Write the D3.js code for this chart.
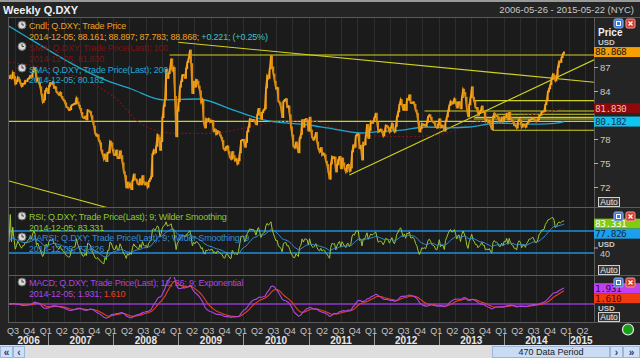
<!DOCTYPE html>
<html><head><meta charset="utf-8">
<script src="https://cdn.jsdelivr.net/npm/d3@7"></script>
<style>
html,body{margin:0;padding:0;background:#242424;overflow:hidden;}
svg{display:block;font-family:"Liberation Sans",Arial,sans-serif;}
</style></head><body>
<svg id="c" width="640" height="358"></svg>
<script>
// ---------- DATA ----------
const startDate = "2006-05-26";
const endDate = "2015-05-22";
const lastDataDate = "2014-12-05";
// weekly closes (Fridays)
const close2006 = [85.6,85.9,85.6,86.3,85.8,84.9,85.2,85.7,85.4,85.0,84.6,84.9,84.9,85.3,85.2,85.5,85.6,85.9,85.7,86.4,86.9,86.6,85.3,85.6,85.0,84.5,83.6,82.6,82.9,84.0,84.3,83.7];
const close2007 = [84.6,85.0,84.9,85.1, 84.4,84.5,83.9,83.7, 83.5,83.8,83.3,83.0,82.8, 82.5,82.0,81.9,81.6, 81.7,82.2,82.3,82.4, 82.4,83.1,82.6,82.2,81.8, 81.3,80.7,80.6,80.8, 80.4,81.6,81.5,81.4,80.9, 80.2,79.6,78.7,78.4, 78.5,77.8,77.5,76.6, 76.1,75.5,76.1,75.2,76.3, 76.3,77.7,77.5,76.7];
const close2008 = [76.0,76.0,76.6,75.6, 75.6,76.5,75.9,75.0,73.9, 73.4,71.9,72.6,72.0, 72.4,71.7,72.8,73.6, 73.0,72.9,72.4,72.3,73.0, 72.3,73.4,72.6,72.3, 72.5,72.0,72.7,73.0, 73.3,76.1,76.6,76.3,77.1, 78.5,78.2,76.6,77.7, 80.7,82.1,83.0,86.7,85.6, 86.2,86.8,88.0,86.6, 86.9,83.3,78.3,81.5];
const close2009 = [82.7,84.5,85.2,86.0,86.0, 85.6,86.8,87.6,88.1, 89.1,87.4,83.7,85.2, 84.5,85.4,85.2,84.6, 84.0,82.6,82.9,80.2,79.4, 80.5,80.2,80.5,80.1, 80.3,80.3,79.0,79.2,78.6, 79.0,78.9,78.5,78.2, 77.8,76.8,76.6,77.0, 77.1,76.4,75.7,75.5,76.4, 75.9,75.3,75.5,74.9, 75.3,76.3,77.8,77.9];
const close2010 = [77.9,77.0,77.6,78.9,79.5, 80.5,80.4,80.4,80.4, 80.2,79.8,81.0,81.8, 81.3,80.5,81.3,81.6,81.8, 84.4,85.9,85.6,86.8, 88.4,87.0,86.1,85.2, 84.3,84.4,82.7,82.5,81.9, 80.7,82.7,82.9,83.0, 82.0,82.1,81.0,79.5, 78.5,77.1,76.9,77.6,77.0, 76.3,78.1,78.6,80.4, 79.5,80.4,80.5,80.3,79.0];
const close2011 = [80.7,79.1,78.2,77.9, 78.2,78.8,77.6,76.8, 76.4,76.9,76.0,76.2, 76.0,75.2,74.8,73.9,73.0, 74.9,75.8,75.6,75.7, 73.9,74.8,75.4,75.8, 74.3,75.6,75.0,74.3,73.9, 74.7,74.8,74.0,74.4, 76.4,77.2,77.0,78.4,78.6, 78.6,76.8,77.2,75.4, 77.5,77.3,78.4,79.8, 78.1,79.1,80.2,80.0,80.2];
const close2012 = [80.7,81.2,80.1,78.9, 79.1,79.2,78.9,78.4, 78.9,79.7,79.6,79.4,78.9, 79.4,79.9,79.2,78.9, 79.6,80.8,81.4,82.3, 82.9,82.3,81.6,82.3,81.6, 83.0,82.9,83.5,82.5, 82.5,82.6,82.3,81.6,81.2, 80.1,78.9,79.3,79.9, 79.7,79.8,79.6,80.1, 80.8,81.0,80.7,80.2,80.1, 80.0,79.5,79.4,79.8];
const close2013 = [80.5,79.5,79.7,79.6, 79.0,80.2,80.8,81.5, 82.2,82.7,82.4,82.5,83.0, 82.6,81.9,82.6,82.6, 81.8,83.2,84.2,83.8,83.2, 81.7,80.8,82.3,83.2, 84.5,83.2,82.7,81.9, 81.9,81.0,81.3,81.5,82.1, 81.4,81.4,80.2,80.4, 80.1,80.3,79.7,79.2, 80.8,81.2,80.9,80.9,80.7, 80.2,80.2,80.6,80.2];
const close2014 = [80.8,80.7,81.2,80.4,81.3, 80.7,80.3,80.2,79.7, 79.7,79.4,80.2,80.5, 80.3,79.5,79.8,79.8, 79.5,79.9,80.1,80.4,80.4, 80.5,80.6,80.4,80.2, 80.2,80.4,80.9,81.0, 81.4,81.4,81.5,82.3,82.8, 83.9,84.3,84.8,85.6, 86.1,85.9,85.3,85.7,87.0, 87.7,87.6,88.2,88.65, 88.868];

// moving averages (sparse points)
const sma200Dates = ["2006-05-26","2006-07-28","2007-11-16","2008-04-11","2008-10-10","2009-04-24","2009-11-06","2010-04-23","2010-12-31","2011-04-15","2011-10-21","2012-01-13","2012-06-08","2012-10-19","2013-03-01","2013-06-21","2013-11-29","2014-03-14","2014-07-18","2014-10-10","2014-12-05"];
const sma200Values = [92.1,91.25,85.4,84.25,82.9,83.0,81.6,80.4,79.75,79.4,78.75,78.9,79.1,79.5,79.4,79.5,80.0,79.9,79.85,79.95,80.18];
const sma100Dates = ["2006-05-26","2006-12-29","2007-06-29","2007-12-28","2008-06-27","2008-12-26","2009-06-26","2009-12-25","2010-06-25","2010-12-31","2011-06-24","2011-12-30","2012-06-29","2012-12-28","2013-06-28","2013-12-27","2014-06-27","2014-12-05"];
const sma100Values = [87.6,86.8,85.6,83.4,79.6,78.7,78.7,79.3,80.1,80.3,79.2,78.4,78.3,78.5,79.9,80.8,81.1,81.83];

// drawn trend lines: [date1, value1, date2, value2]
const trendLines = [
  ["2006-05-26",80.2,"2015-05-22",80.2],
  ["2008-11-12",88.5,"2015-05-22",88.5],
  ["2008-12-31",90.1,"2015-05-22",85.1],
  ["2011-08-18",73.5,"2015-05-22",87.9],
  ["2006-05-26",72.75,"2008-06-01",68.3],
  ["2013-07-11",82.8,"2015-05-22",82.8],
  ["2012-10-13",81.5,"2015-05-22",81.5],
  ["2013-11-21",81.1,"2015-05-22",81.1],
  ["2013-07-19",80.7,"2015-05-22",80.7],
  ["2013-07-15",80.5,"2015-05-22",80.5],
  ["2013-10-29",79.1,"2015-05-22",79.1]
];

// last values shown in legends / axis boxes
const lastCandle = ["88.161","88.897","87.783","88.868"];
const lastChange = ["+0.221","(+0.25%)"];
const priceLast = 88.868, sma100Last = 81.830, sma200Last = 80.182;
const rsiLast = 83.331, marsiLast = 77.826;
const macdLast = 1.931, signalLast = 1.610;
const priceTicks = [72,75,78,84,87];
const rsiTicks = [40];
const rsiLevels = [70,30];
const quarterNames = ["Q1","Q2","Q3","Q4"];
const years = [2006,2007,2008,2009,2010,2011,2012,2013,2014,2015];

// ---------- SETUP ----------
const closes = [].concat(close2006,close2007,close2008,close2009,close2010,close2011,close2012,close2013,close2014);
const parse = d3.timeParse("%Y-%m-%d");
const t0 = parse(startDate), t1 = parse(endDate);
const dates = closes.map((c,i)=>d3.timeDay.offset(t0,7*i));

const svg = d3.select("#c");
const L=9, R=594;
const P={top:17,bottom:207}, RS={top:208,bottom:275}, MC={top:276,bottom:322};
const x = d3.scaleTime().domain([t0,t1]).range([L,R]);
const yP = d3.scaleLinear().domain([69.5,93.25]).range([P.bottom,P.top]);
const yR = d3.scaleLinear().domain([-10,111.8]).range([RS.bottom,RS.top]);
const yM = d3.scaleLinear().domain([-2.195,3.415]).range([MC.bottom,MC.top]);

// backgrounds
svg.append("rect").attr("width",640).attr("height",358).attr("fill","#242424");
svg.append("rect").attr("width",640).attr("height",2).attr("fill","#9a9a9a");
[P,RS,MC].forEach(p=>{
  svg.append("rect").attr("x",8).attr("y",p.top).attr("width",R-8).attr("height",p.bottom-p.top).attr("fill","#1b1b1b");
});
// quarter grid
const quarters = d3.timeMonth.every(3).range(d3.timeMonth.ceil(t0), t1);
svg.append("g").selectAll("line").data(quarters).join("line")
  .attr("x1",d=>Math.round(x(d))+0.5).attr("x2",d=>Math.round(x(d))+0.5)
  .attr("y1",P.top).attr("y2",MC.bottom).attr("stroke","#2d2d2d");
// panel borders
const border = svg.append("g").attr("stroke","#5a5a5a").attr("fill","none");
border.append("line").attr("x1",8.5).attr("x2",8.5).attr("y1",P.top).attr("y2",MC.bottom);
border.append("line").attr("x1",R+0.5).attr("x2",R+0.5).attr("y1",P.top).attr("y2",MC.bottom);
[P.top,P.bottom+0.5,RS.bottom+0.5,MC.bottom].forEach(yy=>{
  border.append("line").attr("x1",8).attr("x2",640).attr("y1",Math.floor(yy)+0.5).attr("y2",Math.floor(yy)+0.5);
});

// clip paths
const defs = svg.append("defs");
[["cp",P],["cr",RS],["cm",MC]].forEach(([id,p])=>{
  defs.append("clipPath").attr("id",id).append("rect").attr("x",9).attr("y",p.top+1).attr("width",R-9).attr("height",p.bottom-p.top-1);
});

// ---------- MAIN PANEL ----------
const gm = svg.append("g").attr("clip-path","url(#cp)");
const lineT = d3.line().x(d=>x(d[0])).y(d=>yP(d[1]));
gm.append("g").selectAll("line").data(trendLines).join("line")
  .attr("x1",d=>x(parse(d[0]))).attr("y1",d=>yP(d[1]))
  .attr("x2",d=>x(parse(d[2]))).attr("y2",d=>yP(d[3]))
  .attr("stroke","#d2d21e").attr("stroke-width",1.1);
gm.append("path").datum(sma100Dates.map((d,i)=>[parse(d),sma100Values[i]]))
  .attr("d",lineT.curve(d3.curveMonotoneX)).attr("fill","none")
  .attr("stroke","#7a1616").attr("stroke-width",1.1).attr("stroke-dasharray","2,2");
gm.append("path").datum(sma200Dates.map((d,i)=>[parse(d),sma200Values[i]]))
  .attr("d",d3.line().x(d=>x(d[0])).y(d=>yP(d[1])).curve(d3.curveMonotoneX)).attr("fill","none")
  .attr("stroke","#1ea6cc").attr("stroke-width",1.3);
const cd = closes.map((c,i)=>({d:dates[i],o:i?closes[i-1]:c,c:c}));
gm.append("path").datum(cd).attr("d",d3.line().x(d=>x(d.d)).y(d=>yP(d.c)))
  .attr("fill","none").attr("stroke","#e8951a").attr("stroke-width",1.6);
gm.append("g").selectAll("rect").data(cd).join("rect")
  .attr("x",d=>x(d.d)-0.8).attr("width",1.6)
  .attr("y",d=>yP(Math.max(d.o,d.c))-0.6)
  .attr("height",d=>Math.max(1.4,Math.abs(yP(d.o)-yP(d.c))+1.2))
  .attr("fill",d=>d.c>=d.o?"#f7a51c":"#d88a10");

// ---------- INDICATORS (computed from closes) ----------
const n=9; let ag=0, al=0; const rsi=[50];
for(let i=1;i<closes.length;i++){
  const ch=closes[i]-closes[i-1], g=Math.max(ch,0), l=Math.max(-ch,0);
  if(i<=n){ag=(ag*(i-1)+g)/i; al=(al*(i-1)+l)/i;} else {ag=(ag*(n-1)+g)/n; al=(al*(n-1)+l)/n;}
  rsi.push(al===0?100:100-100/(1+ag/al));
}
const marsi=[rsi[0]]; for(let i=1;i<rsi.length;i++) marsi.push((marsi[i-1]*(n-1)+rsi[i])/n);
function ema(arr,p){const a=2/(p+1);const o=[arr[0]];for(let i=1;i<arr.length;i++)o.push(a*arr[i]+(1-a)*o[i-1]);return o;}
const e12=ema(closes,12), e26=ema(closes,26);
const macd=e12.map((v,i)=>v-e26[i]);
const sig=ema(macd,9);

const gr = svg.append("g").attr("clip-path","url(#cr)");
gr.selectAll("line.lv").data(rsiLevels).join("line").attr("class","lv")
  .attr("x1",8).attr("x2",R).attr("y1",d=>yR(d)).attr("y2",d=>yR(d))
  .attr("stroke","#1f8fdc").attr("stroke-width",1.3);
gr.append("path").datum(rsi).attr("d",d3.line().x((d,i)=>x(dates[i])).y(d=>yR(d)))
  .attr("fill","none").attr("stroke","#9cc832").attr("stroke-width",1);
gr.append("path").datum(marsi).attr("d",d3.line().x((d,i)=>x(dates[i])).y(d=>yR(d)))
  .attr("fill","none").attr("stroke","#3490d6").attr("stroke-width",1);

const gc = svg.append("g").attr("clip-path","url(#cm)");
gc.append("line").attr("x1",8).attr("x2",R).attr("y1",yM(0)).attr("y2",yM(0))
  .attr("stroke","#9238cc").attr("stroke-width",1.6);
gc.append("path").datum(sig).attr("d",d3.line().x((d,i)=>x(dates[i])).y(d=>yM(d)))
  .attr("fill","none").attr("stroke","#e8401e").attr("stroke-width",1.1);
gc.append("path").datum(macd).attr("d",d3.line().x((d,i)=>x(dates[i])).y(d=>yM(d)))
  .attr("fill","none").attr("stroke","#b048e8").attr("stroke-width",1.1);

// ---------- LEGENDS ----------
function icon(cx,cy){
  const g=svg.append("g");
  g.append("circle").attr("cx",cx).attr("cy",cy).attr("r",4).attr("fill","#d8d8d8").attr("stroke","#6a6a6a");
  g.append("path").attr("d",`M${cx},${cy-2.5}V${cy}H${cx+2}`).attr("stroke","#333").attr("fill","none").attr("stroke-width",0.9);
}
function txt(xx,yy,s,col,size){
  return svg.append("text").attr("x",xx).attr("y",yy).attr("fill",col).attr("font-size",size||9)
    .attr("letter-spacing","-0.2").text(s);
}
icon(22,25); icon(22,46.5); icon(22,68);
txt(29,29,"Cndl; Q.DXY; Trade Price","#eea020");
const t2=txt(29,39.5,"","#eea020");
t2.append("tspan").text("2014-12-05; "+lastCandle.join("; ")+"; ");
t2.append("tspan").attr("fill","#40c4c4").text(lastChange.join("; "));
txt(29,51,"SMA; Q.DXY; Trade Price(Last);  100","#7a1414");
txt(29,61.5,"2014-12-05; "+sma100Last.toFixed(3),"#7a1414");
txt(29,72.5,"SMA; Q.DXY; Trade Price(Last);  200","#22a8d8");
txt(29,83,"2014-12-05; "+sma200Last.toFixed(3),"#22a8d8");

icon(22,216); icon(22,237);
txt(29,220,"RSI; Q.DXY; Trade Price(Last);  9; Wilder Smoothing","#8cc832");
txt(29,230.5,"2014-12-05; "+rsiLast.toFixed(3),"#8cc832");
txt(29,241,"MARSI; Q.DXY; Trade Price(Last);  9; Wilder Smoothing; 9","#2f8fd8");
txt(29,251.5,"2014-12-05; "+marsiLast.toFixed(3),"#2f8fd8");

icon(22,282);
txt(29,285.8,"MACD; Q.DXY; Trade Price(Last);  12; 26; 9; Exponential","#b044e0");
const t3=txt(29,296.8,"","#b044e0");
t3.append("tspan").text("2014-12-05; "+macdLast.toFixed(3)+"; ");
t3.append("tspan").attr("fill","#e8401e").text(signalLast.toFixed(3));

// ---------- TITLE ----------
svg.append("text").attr("x",3).attr("y",14).attr("fill","#f0f0f0").attr("font-size",11)
  .attr("font-weight","bold").text("Weekly Q.DXY");
svg.append("text").attr("x",634).attr("y",13).attr("fill","#c8c8c8").attr("font-size",9.5)
  .attr("text-anchor","end").text(startDate+" - "+endDate+" (NYC)");

// ---------- RIGHT AXES ----------
const ax = svg.append("g").attr("transform",`translate(${R},0)`).call(d3.axisRight(yP).tickValues(priceTicks).tickSize(4).tickPadding(2));
ax.select(".domain").remove();
ax.selectAll("line").attr("stroke","#b0b0b0");
ax.selectAll("text").attr("fill","#c8c8c8").attr("font-size",9.5).attr("font-family","Liberation Sans, Arial");
const axr = svg.append("g").attr("transform",`translate(${R},0)`).call(d3.axisRight(yR).tickValues(rsiTicks).tickSize(4).tickPadding(2));
axr.select(".domain").remove();
axr.selectAll("line").attr("stroke","#b0b0b0");
axr.selectAll("text").attr("fill","#c8c8c8").attr("font-size",9).attr("dy","0.95em").attr("font-family","Liberation Sans, Arial");

svg.append("text").attr("x",598).attr("y",35.5).attr("fill","#f0f0f0").attr("font-size",10).attr("font-weight","bold").text("Price");
svg.append("text").attr("x",598).attr("y",44.5).attr("fill","#c8c8c8").attr("font-size",8).attr("font-weight","bold").text("USD");
svg.append("text").attr("x",598).attr("y",246.5).attr("fill","#c8c8c8").attr("font-size",8).attr("font-weight","bold").text("USD");
svg.append("text").attr("x",598).attr("y",310.5).attr("fill","#c8c8c8").attr("font-size",8).attr("font-weight","bold").text("USD");

function valBox(cy,val,bg,fg){
  svg.append("rect").attr("x",R).attr("y",cy-5).attr("width",640-R).attr("height",10).attr("fill",bg);
  svg.append("text").attr("x",R+1).attr("y",cy+3.4).attr("fill",fg).attr("font-size",9.5)
    .attr("font-family","DejaVu Sans Mono, Liberation Mono, monospace").attr("letter-spacing","-0.5").text(val.toFixed(3));
}
valBox(yP(priceLast),priceLast,"#f5a000","#1a1a1a");
valBox(yP(sma100Last),sma100Last,"#8c0a0a","#f0b8b8");
valBox(yP(sma200Last),sma200Last,"#10c4f0","#103050");
const rb1=yR(rsiLast); valBox(rb1,rsiLast,"#80cc10","#ffffff");
valBox(Math.max(yR(marsiLast),rb1+10),marsiLast,"#1aa0ee","#10304a");
const mb1=yM(macdLast); valBox(mb1,macdLast,"#c040f0","#2a0a3a");
valBox(Math.max(yM(signalLast),mb1+10),signalLast,"#f03a10","#5a0a00");

function buttons(yy){
  svg.append("rect").attr("x",614).attr("y",yy).attr("width",9).attr("height",9).attr("rx",1.5).attr("fill","#3c78d8").attr("stroke","#9ab8ee");
  svg.append("rect").attr("x",616.5).attr("y",yy+2.5).attr("width",4).attr("height",4).attr("fill","none").attr("stroke","#fff");
  svg.append("rect").attr("x",626).attr("y",yy).attr("width",9).attr("height",9).attr("rx",1.5).attr("fill","#d83a2a").attr("stroke","#f0a0a0");
  svg.append("path").attr("d",`M${628.5},${yy+2.5}l4,4M${632.5},${yy+2.5}l-4,4`).attr("stroke","#fff").attr("stroke-width",1.3);
}
buttons(19); buttons(212); buttons(278);
function autoBox(yy){
  svg.append("rect").attr("x",598.5).attr("y",yy+0.5).attr("width",21).attr("height",9).attr("fill","#3a3a3a").attr("stroke","#d0d0d0");
  svg.append("text").attr("x",609).attr("y",yy+8).attr("text-anchor","middle").attr("fill","#e8e8e8").attr("font-size",8.5).text("Auto");
}
autoBox(197); autoBox(265); autoBox(312);

// ---------- TIME AXIS ----------
const qStarts = d3.timeMonth.every(3).range(d3.timeMonth.ceil(t0), t1);
svg.append("g").selectAll("text").data(qStarts).join("text")
  .attr("x",d=>x(d)-2.5).attr("y",333.5).attr("text-anchor","middle")
  .attr("fill","#c4c4c4").attr("font-size",9).text(d=>quarterNames[Math.floor(d.getMonth()/3)]);
const ya = svg.append("g");
years.forEach(yr=>{
  const a=Math.max(L,x(new Date(yr,0,1))), b=Math.min(R,x(new Date(yr+1,0,1)));
  ya.append("text").attr("x",(a+b)/2).attr("y",343.5).attr("text-anchor","middle")
    .attr("fill","#e8e8e8").attr("font-size",10).attr("font-weight","bold").text(yr);
  if(yr>2006){const xx=Math.round(x(new Date(yr,0,1)))+0.5;
    ya.append("line").attr("x1",xx).attr("x2",xx).attr("y1",334).attr("y2",345).attr("stroke","#9a9a9a");}
});
svg.append("circle").attr("cx",628).attr("cy",329.5).attr("r",5.5).attr("fill","#18a018").attr("stroke","#e8e8e8").attr("stroke-width",1.2);

// ---------- BOTTOM BAR ----------
svg.append("rect").attr("x",0).attr("y",345).attr("width",640).attr("height",13).attr("fill","#dedede");
function btn(x0,w,s){
  svg.append("rect").attr("x",x0+0.5).attr("y",346.5).attr("width",w-1).attr("height",11).attr("fill","#cfe0f6").attr("stroke","#9db6d8");
  svg.append("text").attr("x",x0+w/2).attr("y",355.5).attr("text-anchor","middle").attr("fill","#1a3a7a").attr("font-size",10).attr("font-weight","bold").text(s);
}
btn(0,13,"«"); btn(13,12,"‹");
svg.append("rect").attr("x",492.5).attr("y",346.5).attr("width",117).attr("height",11).attr("fill","#c9dcf4").attr("stroke","#9db6d8");
svg.append("text").attr("x",551).attr("y",355).attr("text-anchor","middle").attr("fill","#202020").attr("font-size",9).text("470 Data Period");
btn(610,13,"›"); btn(623,17,"»");
</script>
</body></html>
